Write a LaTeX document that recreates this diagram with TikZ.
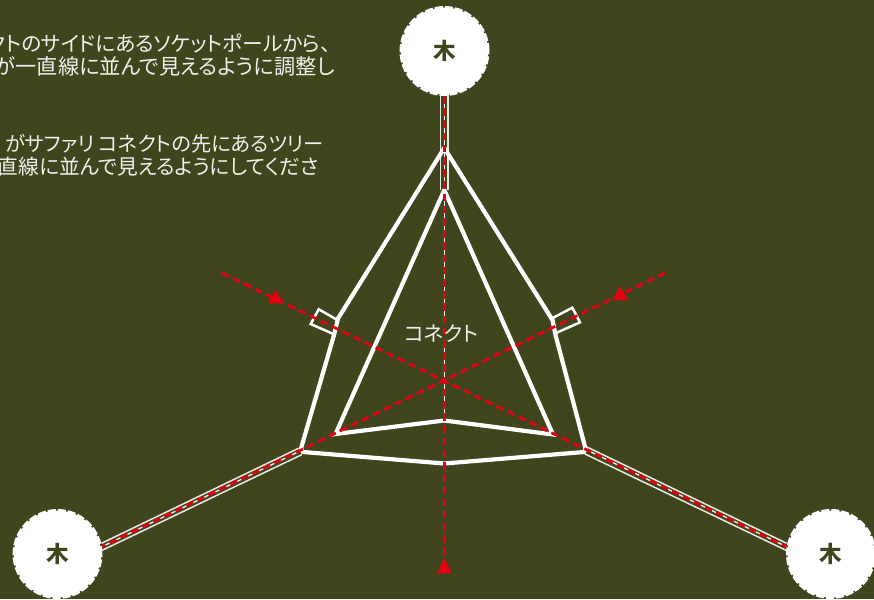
\documentclass[tikz,border=0pt]{standalone}
\usepackage{fontspec}
\setmainfont{Noto Sans CJK JP}[RawFeature=+palt]
\definecolor{bgc}{HTML}{40451E}
\definecolor{redc}{HTML}{E60012}
\tikzset{
 wall/.style={draw=white,line width=4.2pt,line join=miter,miter limit=10},
 rail/.style={draw=white!88!bgc,line width=1.5pt},
 center/.style={draw=white!92!bgc,line width=1.3pt},
 sight/.style={draw=redc,line width=2.8pt,dash pattern=on 7.6pt off 4.6pt},
 treenode/.style={circle,fill=white,draw=white,line width=3pt,dash pattern=on 8pt off 2pt,minimum size=87pt,inner sep=0pt,text=bgc,font=\fontsize{22.5}{22.5}\selectfont\bfseries},
 note/.style={text=white!92!bgc,anchor=east,inner sep=0pt,font=\fontsize{20.7}{20.7}\selectfont},
 tip/.style={fill=redc,draw=none},
 marker/.style={draw=white,line width=2.5pt,line join=miter}
}
\begin{document}
\begin{tikzpicture}[x=1pt,y=-1pt]
\path[use as bounding box,fill=bgc] (0,0) rectangle (874,599);
\clip (0,0) rectangle (874,599);
% reference points
\coordinate (topA) at (444.3,96);
\coordinate (gapA) at (444.3,321);
\coordinate (gapB) at (444.3,348);
\coordinate (innerB) at (444.3,420);
\coordinate (botEnd) at (444.3,566);
\coordinate (ll) at (102,546.7);
\coordinate (lj) at (300,451);
\coordinate (rr) at (786.5,546.7);
\coordinate (rj) at (587,450);
\coordinate (sa) at (222,273);
\coordinate (sb) at (665,273);
% trees
\node[treenode] (t1) at (444.5,51) {木};
\node[treenode] (t2) at (57.5,554) {木};
\node[treenode] (t3) at (831,554) {木};
% approach rails
\draw[rail] (440.6,94) -- (440.6,190);
\draw[rail] (448.2,94) -- (448.2,190);
\draw[rail] (101.7,543.2) -- (298.5,448.3);
\draw[rail] (101.7,550.5) -- (301.7,454.7);
\draw[rail] (786.5,543.2) -- (587,447);
\draw[rail] (786.5,550.5) -- (585,454);
% centre lines
\draw[center] (topA) -- (gapA);
\draw[center] (gapB) -- (innerB);
\draw[center] (ll) -- (lj);
\draw[center] (rr) -- (rj);
% outer wall
\draw[wall] (444.3,148) -- (338,318.5) -- (334,335) -- (301,448.5) -- (303,452) -- (444.3,463.5) -- (584,452) -- (585.5,448.5) -- (555.5,335) -- (552.5,320) -- cycle;
% inner wall
\draw[wall] (444.3,190) -- (335.5,434) -- (444.3,420.5) -- (553,434.5) -- cycle;
% side markers
\draw[marker] (337.5,320) -- (318.7,309.3) -- (310.7,324) -- (333.3,334);
\draw[marker] (551.7,318.5) -- (572.3,307.7) -- (580,322.3) -- (556.7,332.7);
% sight lines
\draw[sight] (topA) -- (botEnd);
\draw[sight] (sa) -- (rr);
\draw[sight] (sb) -- (ll);
% arrowheads
\fill[tip] (444.3,558) -- (451.7,573.3) -- (436.9,573.3) -- cycle;
\fill[tip] (275.5,290) -- (284,303.3) -- (268,303.3) -- cycle;
\fill[tip] (620.3,286.7) -- (628.3,300) -- (612.3,300) -- cycle;
% labels
\node[text=white!92!bgc,inner sep=0pt,font=\fontsize{20.7}{20.7}\selectfont] (lab) at (441.5,334) {コネクト};
\node[note] (n1) at (331,43.5) {クトのサイドにあるソケットポールから、};
\node[note,font=\fontsize{21.2}{21.2}\selectfont] (n2) at (335,66) {が一直線に並んで見えるように調整し};
\node[note,font=\fontsize{20.3}{20.3}\selectfont] (n3) at (324,144) {がサファリ コネクトの先にあるツリー};
\node[note] (n4) at (319,167) {直線に並んで見えるようにしてくださ};
\end{tikzpicture}
\end{document}
